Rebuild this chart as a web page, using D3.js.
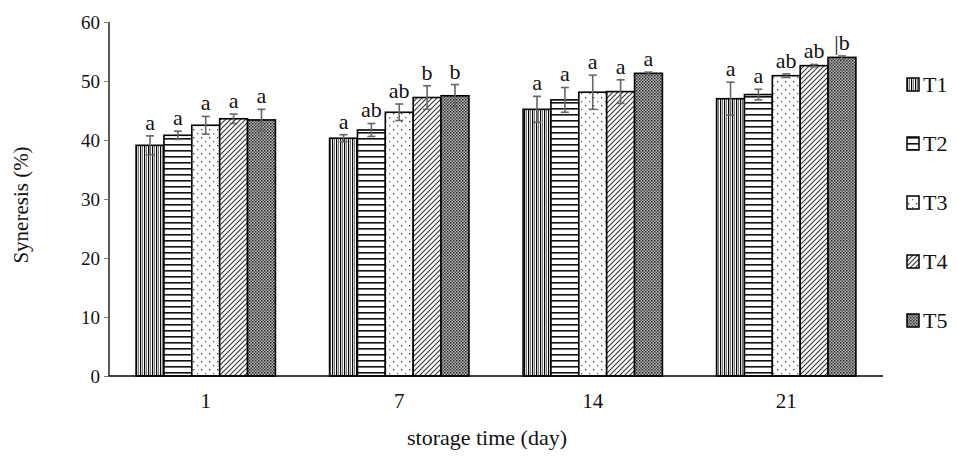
<!DOCTYPE html>
<html>
<head>
<meta charset="utf-8">
<script src="https://cdn.jsdelivr.net/npm/d3@7"></script>
<style>
  body { margin: 0; background: #fff; }
  text { font-family: "Liberation Serif", "DejaVu Serif", serif; fill: #111; }
</style>
</head>
<body>
<script>
// Data
var days = ["1", "7", "14", "21"];
var treatments = ["T1", "T2", "T3", "T4", "T5"];
// mean syneresis per treatment, one value per day
var T1 = [39.1, 40.3, 45.2, 47.0];
var T2 = [40.8, 41.7, 46.8, 47.7];
var T3 = [42.5, 44.7, 48.1, 50.9];
var T4 = [43.6, 47.2, 48.2, 52.6];
var T5 = [43.4, 47.5, 51.3, 54.0];
// standard deviations
var sdT1 = [1.6, 0.6, 2.2, 2.8];
var sdT2 = [0.7, 1.1, 2.1, 0.9];
var sdT3 = [1.5, 1.4, 2.9, 0.3];
var sdT4 = [0.8, 2.0, 2.0, 0.2];
var sdT5 = [1.8, 1.9, 0.2, 0.25];
// significance letters
var letT1 = ["a", "a", "a", "a"];
var letT2 = ["a", "ab", "a", "a"];
var letT3 = ["a", "ab", "a", "ab"];
var letT4 = ["a", "b", "a", "ab"];
var letT5 = ["a", "b", "a", "|b"];
var yTicks = [0, 10, 20, 30, 40, 50, 60];

var means = [T1, T2, T3, T4, T5];
var sds = [sdT1, sdT2, sdT3, sdT4, sdT5];
var lets = [letT1, letT2, letT3, letT4, letT5];

// flatten into records
var data = [];
days.forEach(function (d, i) {
  treatments.forEach(function (t, j) {
    data.push({ day: d, trt: t, v: means[j][i], sd: sds[j][i], lab: lets[j][i] });
  });
});

var W = 957, H = 456;
var plotL = 109, plotR = 883, plotT = 22, plotB = 376;

var svg = d3.select("body").append("svg")
    .attr("width", W)
    .attr("height", H);

// Patterns for the five treatments
var defs = svg.append("defs");
var p1 = defs.append("pattern").attr("id", "pT1").attr("patternUnits", "userSpaceOnUse")
    .attr("width", 4).attr("height", 10);
p1.append("rect").attr("width", 4).attr("height", 10).attr("fill", "#fff");
p1.append("rect").attr("x", 0).attr("width", 1.2).attr("height", 10).attr("fill", "#000");
p1.append("rect").attr("x", 2).attr("width", 1).attr("height", 10).attr("fill", "#777");

var p2 = defs.append("pattern").attr("id", "pT2").attr("patternUnits", "userSpaceOnUse")
    .attr("width", 10).attr("height", 6);
p2.append("rect").attr("width", 10).attr("height", 6).attr("fill", "#fff");
p2.append("rect").attr("y", 0).attr("width", 10).attr("height", 1.6).attr("fill", "#111");

var p3 = defs.append("pattern").attr("id", "pT3").attr("patternUnits", "userSpaceOnUse")
    .attr("width", 8).attr("height", 8);
p3.append("rect").attr("width", 8).attr("height", 8).attr("fill", "#fff");
p3.append("rect").attr("x", 1).attr("y", 1).attr("width", 1.3).attr("height", 1.3).attr("fill", "#333");
p3.append("rect").attr("x", 5).attr("y", 5).attr("width", 1.3).attr("height", 1.3).attr("fill", "#666");

var p4 = defs.append("pattern").attr("id", "pT4").attr("patternUnits", "userSpaceOnUse")
    .attr("width", 5).attr("height", 5);
p4.append("rect").attr("width", 5).attr("height", 5).attr("fill", "#fff");
p4.append("path").attr("d", "M-1,1 l2,-2 M0,5 l5,-5 M4,6 l2,-2")
    .attr("stroke", "#333").attr("stroke-width", 1.1);

var p5 = defs.append("pattern").attr("id", "pT5").attr("patternUnits", "userSpaceOnUse")
    .attr("width", 3).attr("height", 3);
p5.append("rect").attr("width", 3).attr("height", 3).attr("fill", "#bbb");
p5.append("rect").attr("width", 1.5).attr("height", 1.5).attr("fill", "#222");
p5.append("rect").attr("x", 1.5).attr("y", 1.5).attr("width", 1.5).attr("height", 1.5).attr("fill", "#444");

// Scales
var x0 = d3.scaleBand().domain(days).range([plotL, plotR])
    .paddingInner(0.28).paddingOuter(0.14);
var x1 = d3.scaleBand().domain(treatments).range([0, x0.bandwidth()]);
var y = d3.scaleLinear().domain([0, 60]).range([plotB, plotT]);

function cx(d) { return x0(d.day) + x1(d.trt) + x1.bandwidth() / 2; }

// Bars
var g = svg.append("g");
g.selectAll("rect.bar")
    .data(data)
    .enter().append("rect")
    .attr("class", "bar")
    .attr("x", d => x0(d.day) + x1(d.trt))
    .attr("y", d => y(d.v))
    .attr("width", x1.bandwidth())
    .attr("height", d => y(0) - y(d.v))
    .attr("fill", d => "url(#p" + d.trt + ")")
    .attr("stroke", "#000")
    .attr("stroke-width", 1.6);

// Error bars
var eb = g.selectAll("g.err").data(data).enter().append("g").attr("class", "err")
    .attr("stroke", "#666").attr("stroke-width", 1.6);
eb.append("line")
    .attr("x1", cx).attr("x2", cx)
    .attr("y1", d => y(d.v - d.sd))
    .attr("y2", d => y(d.v + d.sd));
eb.append("line")
    .attr("x1", d => cx(d) - 4).attr("x2", d => cx(d) + 4)
    .attr("y1", d => y(d.v + d.sd))
    .attr("y2", d => y(d.v + d.sd));
eb.append("line")
    .attr("x1", d => cx(d) - 4).attr("x2", d => cx(d) + 4)
    .attr("y1", d => y(d.v - d.sd))
    .attr("y2", d => y(d.v - d.sd));

// Letters
g.selectAll("text.lab")
    .data(data)
    .enter().append("text")
    .attr("class", "lab")
    .attr("x", cx)
    .attr("y", d => y(d.v + d.sd) - 6)
    .attr("text-anchor", "middle")
    .style("font-size", "22px")
    .text(d => d.lab);

// Y axis
var yAxis = svg.append("g")
    .attr("transform", "translate(" + plotL + ",0)")
    .call(d3.axisLeft(y).tickValues(yTicks).tickSize(5).tickPadding(4));
yAxis.select(".domain").attr("stroke", "#000").attr("stroke-width", 1.3).attr("d", "M0," + plotT + "V" + plotB);
yAxis.selectAll(".tick line").attr("stroke", "#777");
yAxis.selectAll(".tick text").style("font-size", "19px").style("font-family", "Liberation Serif, serif").attr("fill", "#111");

// X axis
var xAxis = svg.append("g")
    .attr("transform", "translate(0," + plotB + ")")
    .call(d3.axisBottom(x0).tickSize(0).tickPadding(17));
xAxis.select(".domain").attr("stroke", "#000").attr("stroke-width", 1.3).attr("d", "M" + plotL + ",0H" + plotR);
xAxis.selectAll(".tick text").style("font-size", "21px").style("font-family", "Liberation Serif, serif").attr("fill", "#111");

// Axis titles
svg.append("text")
    .attr("x", 487)
    .attr("y", 445)
    .attr("text-anchor", "middle")
    .style("font-size", "22px")
    .text("storage time (day)");

svg.append("text")
    .attr("transform", "translate(28,205) rotate(-90)")
    .attr("text-anchor", "middle")
    .style("font-size", "21px")
    .text("Syneresis (%)");

// Legend
var leg = svg.append("g").selectAll("g")
    .data(treatments)
    .enter().append("g")
    .attr("transform", (d, i) => "translate(907," + (84 + i * 59) + ")");
leg.append("rect")
    .attr("x", 0).attr("y", -6)
    .attr("width", 12).attr("height", 13)
    .attr("fill", d => "url(#p" + d + ")")
    .attr("stroke", "#000").attr("stroke-width", 1.5);
leg.append("text")
    .attr("x", 16).attr("y", 0)
    .attr("dy", "0.35em")
    .style("font-size", "22px")
    .text(d => d);
</script>
</body>
</html>
